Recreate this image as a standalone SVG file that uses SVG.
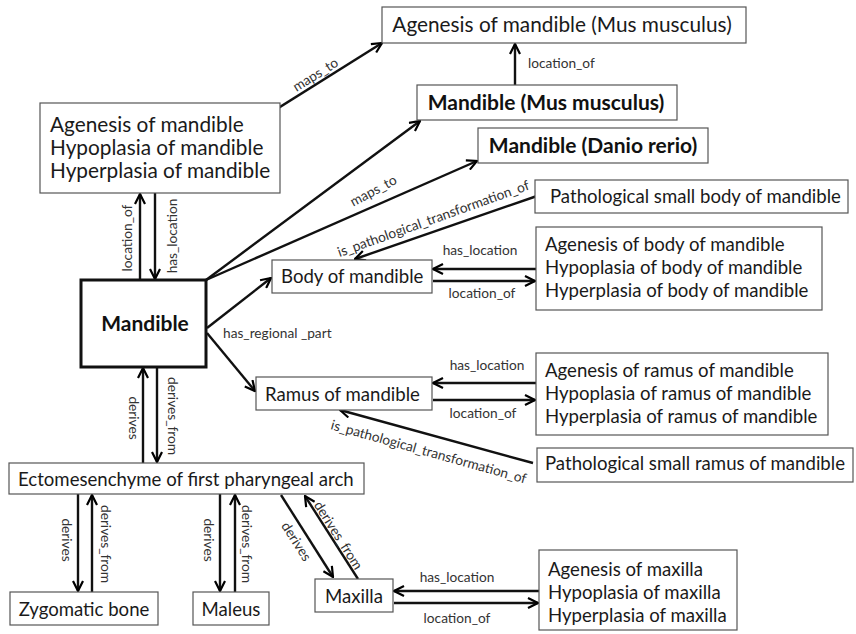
<svg xmlns="http://www.w3.org/2000/svg" width="856" height="634" viewBox="0 0 856 634">
<defs>
<marker id="arr" viewBox="0 0 12 12" refX="11" refY="6" markerWidth="12" markerHeight="12" markerUnits="userSpaceOnUse" orient="auto">
<path d="M1,1 L11,6 L1,11" fill="none" stroke="#000" stroke-width="2.2"/>
</marker>
<style>
.box{fill:#fff;stroke:#555;stroke-width:1.2}
.bigbox{fill:#fff;stroke:#111;stroke-width:3}
.t{font-family:Lato,"Liberation Sans",sans-serif;font-size:18.6px;fill:#1a1a1a}
.t20{font-family:Lato,"Liberation Sans",sans-serif;font-size:20.8px;fill:#1a1a1a}
.b{font-family:Lato,"Liberation Sans",sans-serif;font-size:21px;font-weight:bold;fill:#111}
.l{font-family:Lato,"Liberation Sans",sans-serif;font-size:13.7px;fill:#333}
.lc{font-family:Lato,"Liberation Sans",sans-serif;font-size:13.7px;fill:#333;dominant-baseline:central;text-anchor:middle}
.e{fill:none;stroke:#111;stroke-width:2.4;marker-end:url(#arr)}
</style>
</defs>
<rect width="856" height="634" fill="#fff"/>

<g id="connectors">
<path class="e" d="M248,127 L382,43"/>
<path class="e" d="M206,280 L420,121"/>
<path class="e" d="M206,280 L477,161"/>
<path class="e" d="M537,196 L355,259"/>
<path class="e" d="M536,269 L433,269"/>
<path class="e" d="M433,281 L535,281"/>
<path class="e" d="M207,328 L271,278"/>
<path class="e" d="M207,333 L255,391"/>
<path class="e" d="M536,383 L433,383"/>
<path class="e" d="M433,400 L535,400"/>
<path class="e" d="M533,463 L340,410"/>
<path class="e" d="M140,280 L140,194"/>
<path class="e" d="M155,193 L155,279"/>
<path class="e" d="M143,463 L143,368"/>
<path class="e" d="M157,367 L157,462"/>
<path class="e" d="M78,494 L78,591"/>
<path class="e" d="M92,592 L92,495"/>
<path class="e" d="M220,494 L220,591"/>
<path class="e" d="M235,592 L235,495"/>
<path class="e" d="M281,495 L333,577"/>
<path class="e" d="M358,579 L305,496"/>
<path class="e" d="M539,591 L394,591"/>
<path class="e" d="M394,603 L538,603"/>
<path class="e" d="M515,85 L515,44"/>

<text class="lc" transform="translate(315,74) rotate(-32)">maps_to</text>
<text class="lc" transform="translate(373,190) rotate(-28)">maps_to</text>
<text class="lc" transform="translate(433,218) rotate(-19.6)">is_pathological_transformation_of</text>
<text class="lc" transform="translate(429,451) rotate(15.6)">is_pathological_transformation_of</text>
<text class="lc" transform="translate(126,238) rotate(-90)">location_of</text>
<text class="lc" transform="translate(171,236) rotate(-90)">has_location</text>
<text class="lc" transform="translate(134,418) rotate(90)">derives</text>
<text class="lc" transform="translate(173,416) rotate(90)">derives_from</text>
<text class="lc" transform="translate(67,540) rotate(90)">derives</text>
<text class="lc" transform="translate(106,544) rotate(90)">derives_from</text>
<text class="lc" transform="translate(209,540) rotate(90)">derives</text>
<text class="lc" transform="translate(247,544) rotate(90)">derives_from</text>
<text class="lc" transform="translate(297,541) rotate(57.6)">derives</text>
<text class="lc" transform="translate(339,535) rotate(57.5)">derives_from</text>
<text class="l" x="480" y="255" text-anchor="middle">has_location</text>
<text class="l" x="482" y="298" text-anchor="middle">location_of</text>
<text class="l" x="487" y="370" text-anchor="middle">has_location</text>
<text class="l" x="483" y="418" text-anchor="middle">location_of</text>
<text class="l" x="457" y="582" text-anchor="middle">has_location</text>
<text class="l" x="457" y="623" text-anchor="middle">location_of</text>
<text class="l" x="528" y="68">location_of</text>
<text class="l" x="223" y="338">has_regional _part</text>
</g>

<g id="agenesis-mus">
<rect class="box" x="382" y="7" width="364" height="36"/>
<text class="t20" x="562" y="32" text-anchor="middle">Agenesis of mandible (Mus musculus)</text>
</g>
<g id="mandible-mus">
<rect class="box" x="417" y="85" width="260" height="35"/>
<text class="b" x="546" y="110" text-anchor="middle">Mandible (Mus musculus)</text>
</g>
<g id="mandible-danio">
<rect class="box" x="478" y="128" width="230" height="35"/>
<text class="b" x="593" y="153" text-anchor="middle">Mandible (Danio rerio)</text>
</g>
<g id="path-small-body">
<rect class="box" x="535" y="180" width="313" height="33"/>
<text class="t" x="550" y="203">Pathological small body of mandible</text>
</g>
<g id="mandible-disorders">
<rect class="box" x="40" y="103" width="240" height="90"/>
<text class="t20" x="50" y="132">Agenesis of mandible</text>
<text class="t20" x="50" y="155">Hypoplasia of mandible</text>
<text class="t20" x="50" y="178">Hyperplasia of mandible</text>
</g>
<g id="mandible">
<rect class="bigbox" x="81" y="280" width="125" height="87"/>
<text class="b" x="145" y="331" text-anchor="middle">Mandible</text>
</g>
<g id="body">
<rect class="box" x="272" y="260" width="160" height="33"/>
<text class="t" x="281" y="283">Body of mandible</text>
</g>
<g id="body-disorders">
<rect class="box" x="536" y="227" width="286" height="83"/>
<text class="t" x="545" y="251">Agenesis of body of mandible</text>
<text class="t" x="545" y="274">Hypoplasia of body of mandible</text>
<text class="t" x="545" y="297">Hyperplasia of body of mandible</text>
</g>
<g id="ramus">
<rect class="box" x="256" y="377" width="176" height="33"/>
<text class="t" x="265" y="401">Ramus of mandible</text>
</g>
<g id="ramus-disorders">
<rect class="box" x="536" y="353" width="292" height="82"/>
<text class="t" x="545" y="377">Agenesis of ramus of mandible</text>
<text class="t" x="545" y="400">Hypoplasia of ramus of mandible</text>
<text class="t" x="545" y="423">Hyperplasia of ramus of mandible</text>
</g>
<g id="path-small-ramus">
<rect class="box" x="537" y="448" width="316" height="34"/>
<text class="t" x="545" y="470">Pathological small ramus of mandible</text>
</g>
<g id="ectomesenchyme">
<rect class="box" x="9" y="463" width="355" height="31"/>
<text class="t" x="18" y="486">Ectomesenchyme of first pharyngeal arch</text>
</g>
<g id="zygomatic">
<rect class="box" x="10" y="592" width="148" height="33"/>
<text class="t" x="84" y="616" text-anchor="middle">Zygomatic bone</text>
</g>
<g id="maleus">
<rect class="box" x="193" y="592" width="76" height="33"/>
<text class="t" x="231" y="616" text-anchor="middle">Maleus</text>
</g>
<g id="maxilla">
<rect class="box" x="315" y="579" width="78" height="33"/>
<text class="t" x="354" y="603" text-anchor="middle">Maxilla</text>
</g>
<g id="maxilla-disorders">
<rect class="box" x="539" y="550" width="198" height="80"/>
<text class="t" x="548" y="576">Agenesis of maxilla</text>
<text class="t" x="548" y="599">Hypoplasia of maxilla</text>
<text class="t" x="548" y="622">Hyperplasia of maxilla</text>
</g>
</svg>
